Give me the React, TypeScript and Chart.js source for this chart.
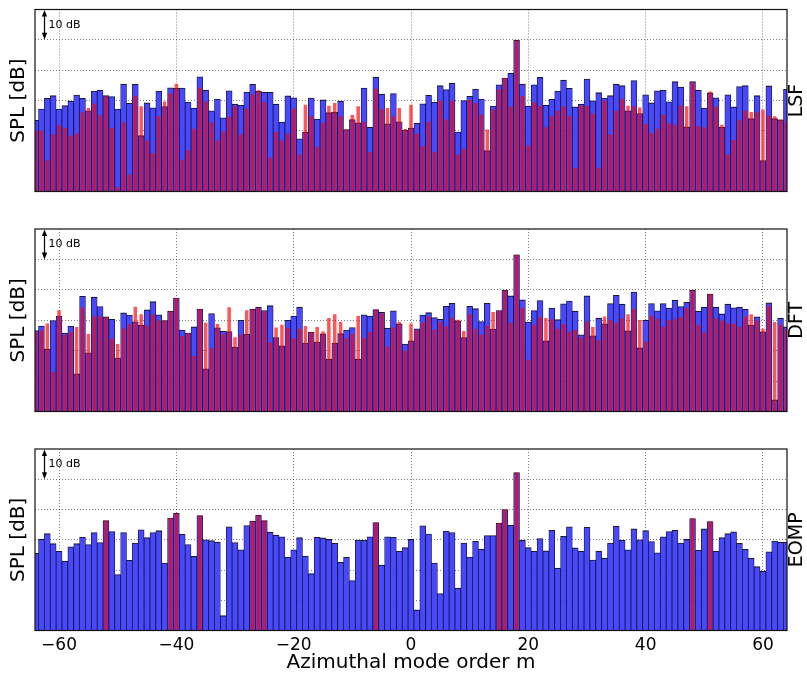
import React, { useEffect, useRef } from 'react';
import { Chart, registerables } from 'chart.js';

Chart.register(...registerables);

// Azimuthal mode orders m = -64 ... 64
const modeOrders = Array.from({ length: 129 }, (_, i) => i - 64);
const xTickValues = [-60, -40, -20, 0, 20, 40, 60];
const levelGrid = [10, 20, 30, 40, 50];

// LSF panel (levels in dB, m = -64 ... 64)
const lsfBlue = [
  23.5, 27.2, 30.7, 31.6, 27.2, 28.3, 29.8, 31.8, 30.7, 26.6, 33.1, 33.4, 31.6, 31.3, 27.2, 35.4, 29.1, 35.4, 18.4, 29.2, 27.6, 33.1, 28.0, 34.2, 34.0, 34.1, 29.5, 27.5, 37.8, 33.4, 26.6, 30.5, 24.3,
  33.2, 28.8, 28.4, 32.8, 35.3, 33.0, 32.7, 32.7, 28.8, 22.9, 31.5, 30.9, 17.4, 19.5, 30.8, 23.9, 30.2, 26.0, 26.2, 29.8, 20.4, 23.7, 22.6, 34.1, 21.2, 37.7, 32.1, 22.3, 32.3, 23.0, 20.2, 20.9, 22.5,
  28.9, 31.7, 29.4, 34.9, 33.6, 35.7, 19.6, 30.0, 31.4, 33.8, 30.5, 13.5, 28.2, 35.2, 37.4, 39.0, 49.8, 35.4, 28.2, 35.2, 37.6, 28.4, 30.4, 33.1, 36.7, 34.0, 27.9, 28.8, 37.1, 29.9, 32.6, 30.8,
  31.6, 35.4, 34.9, 26.6, 36.6, 25.7, 31.9, 29.2, 33.2, 33.4, 29.6, 36.2, 34.4, 21.3, 36.2, 33.4, 27.5, 32.5, 30.9, 21.2, 31.9, 27.9, 34.6, 34.9, 24.0, 31.6, 10.2, 34.8, 24.0, 23.6, 33.7,
];
const lsfRed = [
  20.1, 20.1, 10.2, 18.8, 21.8, 20.9, 18.4, 19.1, 26.1, 27.5, 28.9, 25.1, 31.3, 20.9, 1.4, 22.8, 5.6, 31.5, 28.1, 16.8, 12.6, 24.8, 29.7, 32.3, 35.5, 10.5, 13.6, 20.7, 34.2, 29.6, 22.8, 16.8, 19.8,
  24.6, 28.1, 18.8, 27.3, 32.1, 33.4, 29.4, 11.1, 19.6, 16.8, 19.0, 27.3, 12.2, 28.6, 24.8, 14.7, 22.7, 28.3, 29.2, 24.9, 20.4, 25.3, 28.1, 22.9, 13.0, 33.9, 27.2, 27.5, 24.7, 27.5, 20.6, 28.6, 19.0,
  14.9, 22.9, 13.0, 29.9, 23.7, 29.9, 12.2, 14.1, 30.2, 29.2, 25.3, 20.4, 27.0, 33.6, 37.4, 27.9, 49.8, 31.5, 15.2, 29.4, 28.3, 21.2, 24.8, 26.6, 28.1, 24.8, 7.8, 28.3, 28.3, 25.7, 7.8, 30.0,
  18.8, 26.6, 30.5, 28.3, 28.1, 27.7, 22.3, 19.3, 20.7, 25.3, 22.4, 22.0, 28.3, 28.1, 36.0, 21.6, 21.1, 33.0, 27.9, 22.0, 12.2, 17.1, 23.5, 26.6, 26.2, 26.1, 27.0, 25.0, 24.8, 23.7, 23.1,
];

// DFT panel
const dftBlue = [
  26.6, 28.1, 20.5, 29.9, 31.4, 25.8, 28.1, 12.4, 37.9, 19.3, 37.6, 34.5, 31.1, 30.3, 17.6, 32.4, 31.7, 29.5, 28.4, 33.4, 36.1, 31.8, 29.9, 33.0, 37.3, 26.8, 25.8, 27.8, 33.7, 14.0, 32.2, 27.5, 26.4,
  26.3, 21.1, 30.0, 25.4, 33.6, 34.3, 33.2, 34.8, 24.3, 21.6, 30.0, 31.4, 34.3, 22.5, 26.1, 22.8, 25.5, 17.2, 22.5, 25.6, 26.8, 27.6, 17.2, 31.8, 31.4, 33.5, 32.6, 27.4, 33.1, 28.8, 22.2, 23.2, 27.2,
  31.7, 32.5, 30.9, 30.3, 34.6, 35.6, 29.8, 24.3, 34.6, 33.8, 29.6, 35.6, 27.1, 33.2, 39.9, 38.0, 51.5, 36.7, 29.4, 33.2, 36.5, 23.2, 34.0, 30.2, 35.4, 36.3, 33.0, 25.2, 38.0, 24.9, 30.7, 28.8,
  35.5, 38.2, 35.3, 26.5, 39.3, 20.9, 30.0, 35.5, 33.1, 35.5, 34.0, 36.6, 34.5, 35.9, 39.9, 33.0, 34.3, 38.6, 34.3, 32.1, 35.3, 34.1, 34.3, 33.6, 28.4, 31.1, 26.2, 35.7, 3.8, 30.7, 27.8,
];
const dftRed = [
  26.1, 26.7, 28.9, 13.0, 33.3, 25.2, 26.1, 27.8, 34.2, 25.5, 31.2, 31.3, 31.0, 23.9, 22.2, 27.3, 28.7, 34.4, 32.0, 28.3, 31.9, 29.9, 29.9, 33.0, 37.3, 24.8, 25.8, 18.3, 33.7, 29.2, 20.8, 28.8, 25.4,
  34.3, 24.4, 25.2, 33.3, 33.6, 34.1, 33.0, 22.8, 27.6, 28.5, 27.4, 24.1, 27.2, 28.1, 26.1, 27.8, 26.3, 30.7, 32.0, 29.5, 24.1, 25.5, 31.4, 24.2, 26.1, 33.5, 32.2, 21.4, 27.6, 29.5, 20.0, 28.9, 26.7,
  29.2, 31.2, 26.9, 29.4, 28.0, 30.7, 30.2, 26.5, 31.9, 27.2, 25.2, 28.1, 32.7, 33.1, 39.9, 29.1, 51.5, 34.0, 17.0, 28.5, 31.1, 30.7, 30.3, 27.2, 28.7, 26.2, 26.8, 24.3, 29.6, 27.8, 23.4, 31.2,
  30.1, 29.2, 30.6, 32.0, 33.7, 30.1, 23.0, 31.4, 30.4, 27.9, 30.1, 30.3, 31.1, 34.0, 39.9, 28.5, 26.0, 38.6, 30.6, 29.9, 29.0, 28.9, 27.9, 31.3, 32.0, 29.9, 27.2, 34.8, 29.4, 28.5, 27.2,
];

// EOMP panel
const eompBlue = [
  25.5, 30.2, 32.0, 28.7, 26.2, 22.9, 27.7, 28.7, 30.8, 28.4, 32.4, 29.1, 36.3, 32.7, 18.5, 32.4, 23.2, 28.9, 33.3, 30.7, 32.4, 33.0, 22.3, 37.2, 38.7, 31.8, 28.4, 24.5, 38.0, 30.0, 29.7, 29.2, 4.9, 34.3,
  29.1, 26.7, 34.7, 36.1, 38.1, 36.3, 32.5, 31.5, 31.0, 24.2, 26.7, 30.7, 24.6, 18.8, 30.8, 30.6, 30.1, 28.8, 22.5, 24.2, 16.5, 29.9, 29.8, 31.0, 35.7, 21.6, 31.0, 30.8, 26.2, 27.4, 30.1, 6.8,
  34.6, 31.9, 22.3, 12.2, 32.9, 32.4, 14.0, 28.9, 24.3, 29.5, 26.9, 31.4, 31.4, 35.5, 40.0, 34.8, 52.2, 29.8, 27.4, 26.2, 30.4, 26.3, 33.1, 20.6, 31.1, 34.3, 27.3, 26.2, 34.1, 23.3, 26.2, 23.9,
  28.9, 34.5, 29.8, 26.7, 33.6, 30.0, 33.0, 29.4, 25.7, 31.0, 32.7, 33.1, 28.9, 30.1, 37.0, 26.5, 33.6, 36.0, 26.2, 30.7, 32.0, 32.6, 28.8, 26.8, 23.9, 21.1, 19.6, 26.0, 29.6, 29.2, 29.2,
];
const eompRedModes = [-52, -41, -40, -36, -27, -26, -25, -6, 15, 16, 18, 48, 51];
const eompRedLevels = [36.3, 37.2, 38.7, 38.0, 36.1, 38.1, 36.3, 35.7, 35.5, 40.0, 52.2, 37.0, 36.0];

const FONT = 'DejaVu Sans';
const X_MIN = -64.1;
const X_MAX = 64.1;
const ARROW_MODE = -62.6;

const toPoints = (xs: number[], ys: number[]) => xs.map((x, i) => ({ x, y: ys[i] }));
const fmtTick = (v: number) => (v < 0 ? '\u2212' + Math.abs(v) : String(v));

const panelDecor = {
  id: 'panelDecor',
  afterDraw(chart: any, _args: any, opts: any) {
    const { ctx, chartArea } = chart;
    const { left, top, right, bottom } = chartArea;
    const xs = chart.scales.x;
    const ys = chart.scales.y;
    ctx.save();

    // frame
    ctx.strokeStyle = '#111';
    ctx.lineWidth = 1.2;
    ctx.strokeRect(left, top, right - left, bottom - top);

    // 10 dB scale arrow
    const ax = Math.round(xs.getPixelForValue(ARROW_MODE)) + 0.5;
    const y0 = ys.getPixelForValue(60);
    const y1 = ys.getPixelForValue(50);
    const head = 7;
    const hw = 2.6;
    ctx.strokeStyle = '#000';
    ctx.fillStyle = '#000';
    ctx.lineWidth = 1.2;
    ctx.beginPath();
    ctx.moveTo(ax, y0 + head - 1);
    ctx.lineTo(ax, y1 - head + 1);
    ctx.stroke();
    ctx.beginPath();
    ctx.moveTo(ax, y0 + 0.5);
    ctx.lineTo(ax - hw, y0 + head);
    ctx.lineTo(ax + hw, y0 + head);
    ctx.closePath();
    ctx.fill();
    ctx.beginPath();
    ctx.moveTo(ax, y1);
    ctx.lineTo(ax - hw, y1 - head);
    ctx.lineTo(ax + hw, y1 - head);
    ctx.closePath();
    ctx.fill();
    ctx.font = `11px "${FONT}"`;
    ctx.textAlign = 'left';
    ctx.textBaseline = 'middle';
    ctx.fillText('10 dB', ax + 4, (y0 + y1) / 2);

    // method label on the right
    ctx.translate(797, (top + bottom) / 2);
    ctx.rotate(-Math.PI / 2);
    ctx.font = `19px "${FONT}"`;
    ctx.textAlign = 'center';
    ctx.textBaseline = 'middle';
    ctx.fillText(opts.label, 0, 0);
    ctx.restore();
  },
};

type PanelProps = {
  top: number;
  height: number;
  padTop: number;
  padBottom: number;
  xAxisHeight: number;
  showX: boolean;
  label: string;
  blue: { x: number; y: number }[];
  red: { x: number; y: number }[];
};

function Panel(p: PanelProps) {
  const ref = useRef<HTMLCanvasElement>(null);
  useEffect(() => {
    if (!ref.current) return;
    const gridColor = 'rgba(0,0,0,0.5)';
    const chart = new Chart(ref.current, {
      type: 'bar',
      data: {
        datasets: [
          {
            data: p.red as any,
            order: 0,
            backgroundColor: 'rgba(255,0,0,0.66)',
            borderWidth: 0,
            barPercentage: 0.6,
            categoryPercentage: 1,
            grouped: false,
          } as any,
          {
            data: p.blue as any,
            order: 1,
            backgroundColor: '#4848ff',
            borderColor: 'rgba(5,5,40,0.92)',
            borderWidth: { top: 1.1, left: 0.8, right: 0.8, bottom: 0 },
            barPercentage: 1,
            categoryPercentage: 1,
            grouped: false,
          } as any,
        ],
      },
      options: {
        responsive: false,
        animation: false,
        devicePixelRatio: 1,
        layout: { padding: { top: p.padTop, right: 20, bottom: p.padBottom, left: 0 } },
        plugins: {
          legend: { display: false },
          tooltip: { enabled: false },
          panelDecor: { label: p.label },
        } as any,
        scales: {
          x: {
            type: 'linear',
            min: X_MIN,
            max: X_MAX,
            offset: false,
            z: 1,
            afterBuildTicks: (s: any) => {
              s.ticks = xTickValues.map((value) => ({ value }));
            },
            afterFit: (s: any) => {
              s.height = p.xAxisHeight;
            },
            grid: { offset: false, color: gridColor, lineWidth: 1, drawTicks: false },
            border: { display: false, dash: [1, 2] },
            ticks: {
              display: p.showX,
              color: '#000',
              font: { family: FONT, size: 17 },
              padding: 5,
              maxRotation: 0,
              autoSkip: false,
              callback: (v: any) => fmtTick(Number(v)),
            },
            title: {
              display: p.showX,
              text: 'Azimuthal mode order m',
              color: '#000',
              font: { family: FONT, size: 20 },
              padding: { top: 0, bottom: -1 },
            },
          },
          y: {
            type: 'linear',
            min: 0,
            max: 60,
            z: 1,
            afterBuildTicks: (s: any) => {
              s.ticks = levelGrid.map((value) => ({ value }));
            },
            afterFit: (s: any) => {
              s.width = 35;
            },
            grid: { color: gridColor, lineWidth: 1, drawTicks: false },
            border: { display: false, dash: [1, 2] },
            ticks: { display: false },
            title: {
              display: true,
              text: 'SPL [dB]',
              color: '#000',
              font: { family: FONT, size: 20 },
              padding: { top: 7, bottom: 0 },
            },
          },
        },
      } as any,
      plugins: [panelDecor as any],
    });
    return () => chart.destroy();
  }, []);
  return (
    <canvas
      ref={ref}
      width={807}
      height={p.height}
      style={{ position: 'absolute', left: 0, top: p.top, width: 807, height: p.height }}
    />
  );
}

export default function App() {
  const eompRed = toPoints(eompRedModes, eompRedLevels);
  return (
    <div style={{ position: 'absolute', left: 0, top: 0, width: 807, height: 674, background: '#fff', overflow: 'hidden' }}>
      <Panel top={0} height={214} padTop={9.5} padBottom={22.5} xAxisHeight={0} showX={false} label="LSF"
        blue={toPoints(modeOrders, lsfBlue)} red={toPoints(modeOrders, lsfRed)} />
      <Panel top={214} height={220} padTop={15} padBottom={22.5} xAxisHeight={0} showX={false} label="DFT"
        blue={toPoints(modeOrders, dftBlue)} red={toPoints(modeOrders, dftRed)} />
      <Panel top={434} height={240} padTop={15} padBottom={0} xAxisHeight={43.5} showX={true} label="EOMP"
        blue={toPoints(modeOrders, eompBlue)} red={eompRed} />
    </div>
  );
}
